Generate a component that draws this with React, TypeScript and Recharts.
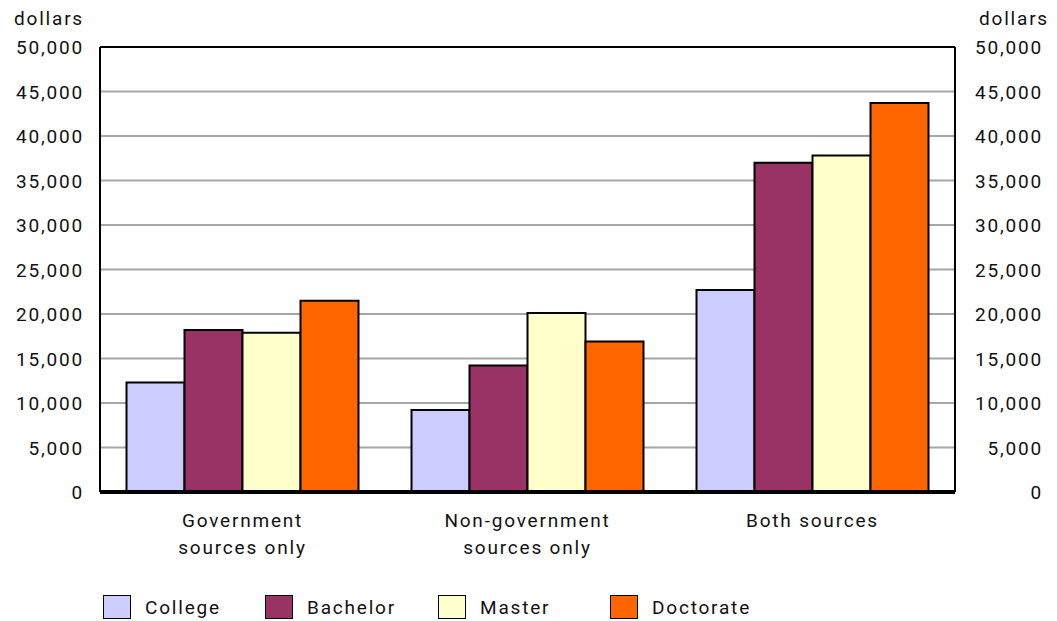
import { BarChart, Bar, XAxis, YAxis, CartesianGrid, ReferenceLine } from "recharts";

const categories = ["Government\nsources only", "Non-government\nsources only", "Both sources"];
const college = [12300, 9200, 22700];
const bachelor = [18200, 14200, 37000];
const master = [17900, 20100, 37800];
const doctorate = [21500, 16900, 43700];
const yTicks = [0, 5000, 10000, 15000, 20000, 25000, 30000, 35000, 40000, 45000, 50000];

const series = [
  { key: "college", name: "College", color: "#CCCCFF" },
  { key: "bachelor", name: "Bachelor", color: "#993366" },
  { key: "master", name: "Master", color: "#FFFFCC" },
  { key: "doctorate", name: "Doctorate", color: "#FF6600" },
];

const data = categories.map((c, i) => ({
  category: c,
  college: college[i],
  bachelor: bachelor[i],
  master: master[i],
  doctorate: doctorate[i],
}));

const FONT = "Roboto, 'DejaVu Sans', sans-serif";
const textStyle: any = { fontFamily: FONT, fontSize: 19, letterSpacing: 1.8, fill: "#111", color: "#111" };

const fmt = (v: number) => v.toLocaleString("en-US");

const CategoryTick = ({ x, y, payload }: any) => {
  const lines = String(payload.value).split("\n");
  return (
    <text x={x} y={y} textAnchor="middle" style={textStyle}>
      {lines.map((l, i) => (
        <tspan key={i} x={x} dy={i === 0 ? 27 : 27}>
          {l}
        </tspan>
      ))}
    </text>
  );
};

const SideTick = ({ x, y, payload, anchorX }: any) => (
  <text x={anchorX ?? x} y={y} dy={7} textAnchor="end" style={textStyle}>
    {fmt(payload.value)}
  </text>
);

const legendWidths = [162, 173, 172, 172];

export default function App() {
  return (
    <div style={{ position: "absolute", left: 0, top: 0, width: 1057, height: 621, background: "#fff" }}>
      <div style={{ position: "absolute", left: 14, top: 7, ...textStyle }}>dollars</div>
      <div style={{ position: "absolute", left: 979, top: 7, ...textStyle }}>dollars</div>
      <BarChart
        width={1057}
        height={621}
        data={data}
        margin={{ top: 47, right: 0, left: 0, bottom: 69 }}
        barCategoryGap="9.3%"
        barGap={0}
      >
        <CartesianGrid yAxisId="left" vertical={false} stroke="#A6A6A6" strokeWidth={2} />
        <XAxis
          dataKey="category"
          tick={<CategoryTick />}
          tickLine={false}
          axisLine={false}
          height={60}
          interval={0}
        />
        <YAxis
          yAxisId="left"
          domain={[0, 50000]}
          ticks={yTicks}
          width={100}
          tickLine={false}
          axisLine={{ stroke: "#000", strokeWidth: 2 }}
          tick={(p: any) => <SideTick {...p} anchorX={84} />}
        />
        <YAxis
          yAxisId="right"
          orientation="right"
          domain={[0, 50000]}
          ticks={yTicks}
          width={102}
          tickLine={false}
          axisLine={{ stroke: "#000", strokeWidth: 2 }}
          tick={(p: any) => <SideTick {...p} anchorX={1043} />}
        />
        {series.map((s, i) => (
          <Bar
            key={s.key}
            yAxisId={i === 3 ? "right" : "left"}
            dataKey={s.key}
            name={s.name}
            fill={s.color}
            stroke="#000"
            strokeWidth={2}
            isAnimationActive={false}
          />
        ))}
        <ReferenceLine yAxisId="left" y={50000} stroke="#000" strokeWidth={2} />
        <ReferenceLine yAxisId="left" y={0} stroke="#000" strokeWidth={4} />
      </BarChart>
      <div style={{ position: "absolute", left: 103, top: 595, display: "flex", ...textStyle }}>
        {series.map((s, i) => (
          <div key={s.key} style={{ width: legendWidths[i], display: "flex", alignItems: "center" }}>
            <span
              style={{
                display: "inline-block",
                width: 26,
                height: 22,
                background: s.color,
                border: "1.5px solid #000",
                marginRight: 14,
              }}
            />
            <span>{s.name}</span>
          </div>
        ))}
      </div>
    </div>
  );
}
